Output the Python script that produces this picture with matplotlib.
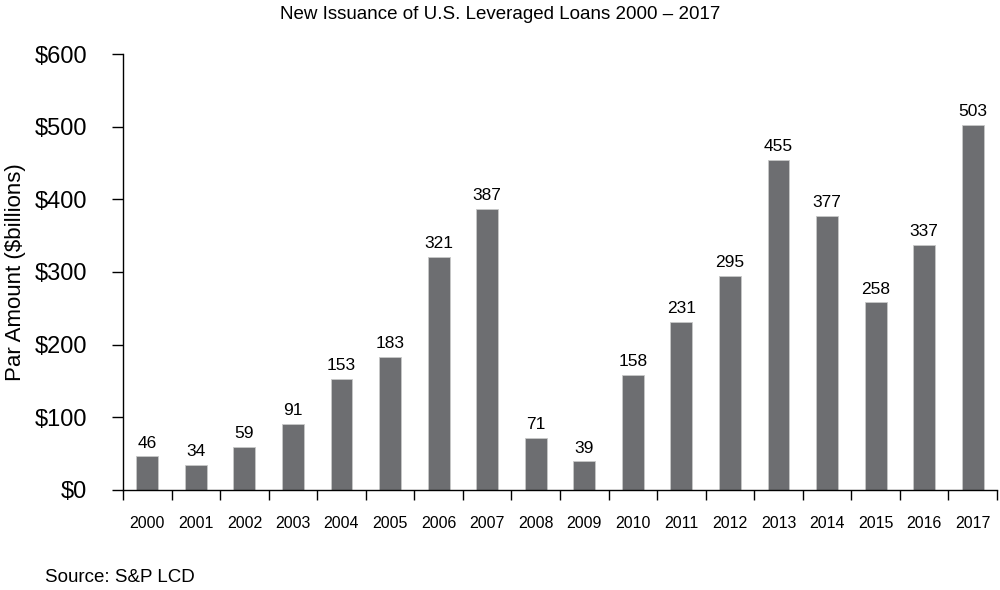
import matplotlib
matplotlib.use("Agg")
import matplotlib.pyplot as plt
import numpy as np

years = ["2000", "2001", "2002", "2003", "2004", "2005", "2006", "2007", "2008",
         "2009", "2010", "2011", "2012", "2013", "2014", "2015", "2016", "2017"]
values = [46, 34, 59, 91, 153, 183, 321, 387, 71, 39, 158, 231, 295, 455, 377, 258, 337, 503]
yticks = [0, 100, 200, 300, 400, 500, 600]
ytick_labels = ["$0", "$100", "$200", "$300", "$400", "$500", "$600"]

plt.rcParams['font.family'] = ['Liberation Sans', 'DejaVu Sans']

fig = plt.figure(figsize=(10, 5.9), dpi=100)
ax = fig.add_axes([0.123, 0.17, 0.874, 0.738])

x = np.arange(len(years))
bars = ax.bar(x, values, width=0.45, color="#6d6e71", edgecolor="#c8c8c8", linewidth=0.6)
for xi, v in zip(x, values):
    ax.text(xi, v + 8, str(v), ha="center", va="bottom", fontsize=12.5)

ax.set_xlim(-0.5, len(years) - 0.5)
ax.set_ylim(0, 600)
ax.set_yticks(yticks)
ax.set_yticklabels(ytick_labels, fontsize=17)
ax.set_xticks(np.arange(-0.5, len(years), 1.0))
ax.set_xticklabels([])
ax.set_xticks(x, minor=True)
ax.set_xticklabels(years, minor=True, fontsize=11.5)
ax.tick_params(axis="x", which="minor", length=0, pad=19)
ax.tick_params(axis="x", which="major", length=7, width=1, direction="out")
ax.tick_params(axis="y", length=8, width=1, direction="out", pad=18)
for s in ["top", "right"]:
    ax.spines[s].set_visible(False)
ax.spines["left"].set_linewidth(1)
ax.spines["bottom"].set_linewidth(1)

ax.set_ylabel("Par Amount ($billions)", fontsize=16, labelpad=6)
fig.text(0.5, 0.975, "New Issuance of U.S. Leveraged Loans 2000 – 2017", ha="center", va="center", fontsize=13.5)
fig.text(0.045, 0.022, "Source: S&P LCD", ha="left", va="center", fontsize=13.5)

fig.savefig("out.png", dpi=100)
